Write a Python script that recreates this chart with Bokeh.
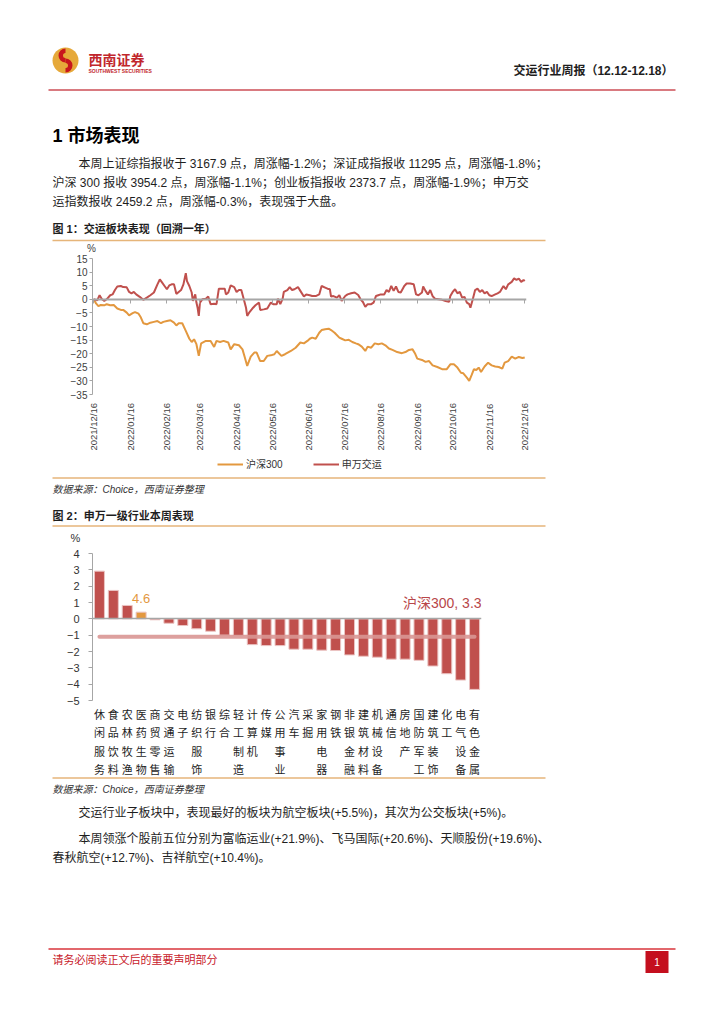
import math
from bokeh.plotting import figure
from bokeh.layouts import column
from bokeh.models import (Range1d, FactorRange, LinearAxis, CategoricalAxis,
                          FixedTicker, Legend, LegendItem)
from bokeh.core.properties import value
from bokeh.embed import file_html
from bokeh.resources import INLINE

FONT = "Liberation Sans, Noto Sans CJK SC"

# ---------------- chart 1 data: 1-year performance (%), x = days since 2021/12/16
date_tick_days = [0, 31, 62, 90, 121, 151, 182, 212, 243, 274, 304, 335, 365]
date_tick_labels = ["2021/12/16", "2022/01/16", "2022/02/16", "2022/03/16", "2022/04/16",
                    "2022/05/16", "2022/06/16", "2022/07/16", "2022/08/16", "2022/09/16",
                    "2022/10/16", "2022/11/16", "2022/12/16"]
y1_ticks = [-35, -30, -25, -20, -15, -10, -5, 0, 5, 10, 15]

jy_days = [0, 3, 5, 7, 9, 11, 14, 16, 18, 20, 23, 25, 28, 30, 32, 34, 36, 39, 42, 45, 48, 51,
           54, 56, 58, 60, 62, 64, 66, 68, 70, 72, 74, 76, 78, 79, 81, 83, 84, 86, 87, 88, 89,
           90, 92, 95, 97, 99, 102, 104, 106, 109, 111, 112, 114, 116, 119, 121, 123, 125, 127,
           129, 130, 132, 135, 137, 140, 141, 144, 147, 150, 152, 155, 156, 158, 160, 161, 164,
           166, 168, 170, 173, 175, 178, 180, 183, 185, 188, 191, 193, 196, 198, 200, 201, 203,
           206, 208, 210, 213, 215, 218, 221, 224, 226, 228, 230, 232, 235, 237, 239, 241, 243,
           246, 248, 250, 252, 254, 256, 258, 260, 263, 265, 268, 271, 273, 275, 278, 279, 281,
           283, 285, 287, 289, 292, 295, 298, 301, 302, 304, 306, 308, 310, 312, 314, 316, 318,
           319, 321, 323, 325, 327, 329, 331, 333, 335, 337, 340, 342, 344, 347, 349, 351, 354,
           356, 358, 360, 362, 364, 365]
jy_vals = [0, -0.4, 1.5, 0, -0.6, 0, 1.5, 1.8, 3.4, 4.7, 4.9, 4.5, 4.4, 2.7, 2.2, 2.7, 1.8, 0.9,
           -0.2, 0.6, 1.5, 2.5, 5.5, 7.3, 6.1, 4.9, 3.7, 5.1, 5.5, 5.5, 2.0, 2.7, 3.4, 5.5, 9.6,
           6.7, 4.9, 2.5, -0.6, 1.8, -1.2, -3.1, -6.1, -1.2, 0, 0.2, 1.0, -1.8, -1.6, -1.8, 3.9,
           3.9, 3.9, 1.8, 2.5, 5.1, 4.5, 2.7, 3.4, 3.4, 0.2, -3.1, -6.1, -4.7, -3.1, -2.2, -1.2,
           -3.9, -3.7, -3.4, -1.2, -1.8, -1.8, 0.2, -1.8, 0.2, 2.7, 3.4, 4.5, 3.4, 3.7, 4.5, 3.1,
           1.0, 1.8, 1.5, 1.2, 1.2, 1.8, 4.9, 4.3, 3.9, 3.7, 1.0, 1.2, 0.6, 1.5, -0.6, 1.2, 1.8,
           2.2, 2.5, 1.6, 0, -1.0, -2.8, -1.8, -1.8, -1.2, 1.2, 1.5, 1.8, 1.8, 3.4, 2.7, 4.9, 3.1,
           4.7, 2.7, 2.5, 4.9, 5.8, 5.8, 5.5, 1.8, 1.5, 2.5, 4.7, 3.1, 1.8, 3.4, 1.2, 0.2, 0,
           -0.2, -0.6, -0.9, 1.2, 2.7, 3.7, 2.2, 2.7, 0.6, 0.9, -1.2, -1.8, -3.1, 0, 3.4, 3.9,
           2.7, 3.4, 2.2, 2.7, 1.5, 1.2, 1.8, 2.2, 2.7, 4.9, 3.7, 5.5, 6.4, 7.7, 7.1, 7.6, 6.4,
           7.1, 6.7]

hs_days = [0, 2, 4, 6, 9, 11, 14, 17, 20, 23, 25, 28, 30, 33, 35, 38, 40, 42, 45, 48, 51, 54,
           57, 59, 62, 65, 68, 70, 72, 75, 78, 81, 83, 85, 87, 89, 91, 95, 99, 102, 104, 107,
           110, 114, 116, 119, 123, 126, 128, 130, 133, 136, 138, 141, 144, 147, 150, 153, 155,
           159, 162, 167, 171, 175, 178, 181, 183, 185, 188, 191, 193, 196, 199, 201, 204, 208,
           210, 213, 216, 219, 222, 224, 227, 230, 232, 235, 238, 241, 244, 247, 250, 253, 257,
           261, 264, 267, 270, 272, 274, 278, 281, 284, 287, 291, 295, 299, 302, 305, 308, 311,
           313, 316, 318, 320, 322, 324, 326, 328, 331, 334, 337, 340, 343, 346, 348, 351, 354,
           357, 360, 363, 365]
hs_vals = [0, -1.5, -2.5, -2.1, -2.2, -1.8, -2.2, -2.1, -3.4, -3.9, -3.9, -4.9, -5.9, -5.1,
           -4.7, -5.3, -6.7, -8.8, -9.2, -8.6, -8.3, -8.0, -8.8, -8.3, -8.0, -7.7, -8.6, -9.6,
           -8.8, -8.8, -11.6, -14.5, -15.7, -14.7, -16.5, -20.8, -16.2, -15.3, -15.3, -17.5,
           -15.3, -15.7, -15.3, -15.9, -18.4, -16.5, -16.9, -18.4, -21.4, -24.5, -21.1, -19.6,
           -19.6, -22.7, -22.7, -20.8, -20.6, -20.2, -19.0, -20.8, -20.2, -19.0, -17.8, -15.9,
           -16.2, -15.3, -14.5, -14.1, -14.5, -12.3, -11.3, -11.0, -10.8, -11.3, -12.3, -14.1,
           -14.5, -15.1, -14.9, -15.7, -16.2, -16.5, -17.4, -19.0, -17.4, -17.8, -16.2, -16.5,
           -16.2, -16.9, -18.1, -18.6, -19.4, -19.8, -19.4, -18.6, -18.4, -19.8, -21.8, -22.3,
           -23.0, -22.7, -24.3, -24.9, -25.7, -25.7, -23.9, -23.9, -25.1, -27.0, -27.2, -28.8,
           -30.0, -27.9, -25.7, -26.0, -25.1, -26.7, -24.7, -23.3, -24.3, -24.7, -24.9, -25.5,
           -23.3, -22.7, -21.1, -21.8, -21.2, -21.6, -21.4]
series_names = ["沪深300", "申万交运"]

# ---------------- chart 2 data: weekly change of SW level-1 industries (%)
industries = ["休闲服务", "食品饮料", "农林牧渔", "医药生物", "商贸零售", "交通运输", "电子",
              "纺织服饰", "银行", "综合", "轻工制造", "计算机", "传媒", "公用事业", "汽车",
              "采掘", "家用电器", "钢铁", "非银金融", "建筑材料", "机械设备", "通信", "房地产",
              "国防军工", "建筑装饰", "化工", "电气设备", "有色金属"]
weekly_chg = [2.92, 1.74, 0.82, 0.41, -0.06, -0.27, -0.41, -0.61, -0.76, -1.0, -1.02, -1.58,
              -1.64, -1.64, -1.86, -1.86, -1.92, -1.94, -2.21, -2.29, -2.35, -2.47, -2.47,
              -2.54, -2.89, -3.36, -3.75, -4.32]
highlight_index = 3
highlight_label = "4.6"
hs300_week = -1.1
hs300_label = "沪深300, 3.3"
y2_ticks = [-5, -4, -3, -2, -1, 0, 1, 2, 3, 4]

RED = "#c0504d"
ORANGE = "#e3983f"
AXIS_GRAY = "#a6a6a6"
TEXT = "#1e1e1e"
TAN = "#e6b57a"


def base_fig(h, x_range, y_range, left=0, right=0, top=0, bottom=0):
    p = figure(width=708, height=h, x_range=x_range, y_range=y_range,
               x_axis_location=None, y_axis_location=None,
               min_border_left=left, min_border_right=right, min_border_top=top,
               min_border_bottom=bottom, frame_align=False,
               toolbar_location=None, output_backend="svg")
    p.outline_line_color = None
    p.grid.visible = False
    return p


def text_fig(y0, y1):
    return base_fig(y1 - y0, Range1d(0, 708), Range1d(y1, y0))


def txt(p, x, y, s, size, color=TEXT, style="normal", align="left"):
    p.text(x=[x], y=[y], text=[s], text_font=value(FONT), text_font_size=f"{size}px",
           text_color=color, text_font_style=style, text_align=align, text_baseline="middle")


def hline(p, x0, x1, y, color, w):
    p.segment(x0=[x0], y0=[y], x1=[x1], y1=[y], line_color=color, line_width=w)


# ---------------- S1: header + intro
s1 = text_fig(0, 254)
s1.circle(x=[65], y=[60], radius=13, fill_color="#e6a93a", line_color=None)
s1.annular_wedge(x=[65], y=[55], inner_radius=2.5, outer_radius=7, start_angle=math.pi / 2,
                 end_angle=3 * math.pi / 2, fill_color="#c8161d", line_color=None)
s1.annular_wedge(x=[65], y=[65], inner_radius=2.5, outer_radius=7, start_angle=-math.pi / 2,
                 end_angle=math.pi / 2, fill_color="#c8161d", line_color=None)
txt(s1, 88, 59, "西南证券", 14, "#c1272d", "bold")
txt(s1, 88, 70, "SOUTHWEST SECURITIES", 5, "#c1272d", "bold")
txt(s1, 673, 70, "交运行业周报（12.12-12.18）", 12, TEXT, "bold", "right")
hline(s1, 48, 675, 89.5, "#d97a80", 2)
txt(s1, 52, 135, "1 市场表现", 18, "#000000", "bold")
txt(s1, 78, 163, "本周上证综指报收于 3167.9 点，周涨幅-1.2%；深证成指报收 11295 点，周涨幅-1.8%；", 12)
txt(s1, 52, 182, "沪深 300 报收 3954.2 点，周涨幅-1.1%；创业板指报收 2373.7 点，周涨幅-1.9%；申万交", 12)
txt(s1, 52, 201, "运指数报收 2459.2 点，周涨幅-0.3%，表现强于大盘。", 12)
txt(s1, 52, 228, "图 1：交运板块表现（回溯一年）", 11, TEXT, "bold")
hline(s1, 52, 545, 240, TAN, 1.5)
txt(s1, 91, 247.5, "%", 10, "#404040", "normal", "center")

# ---------------- S2: chart 1 plot area
p1 = base_fig(145, Range1d(-1, 366.5), Range1d(-35, 15), left=92, right=182, top=4,
              bottom=5)
yax1 = LinearAxis(ticker=FixedTicker(ticks=y1_ticks), axis_line_color=AXIS_GRAY,
                  major_tick_line_color=AXIS_GRAY, major_tick_out=3, major_tick_in=0,
                  minor_tick_line_color=None, major_label_text_font_size="10px",
                  major_label_text_font=FONT, major_label_text_color="#404040",
                  major_label_standoff=2)
p1.add_layout(yax1, "left")
zax1 = LinearAxis(fixed_location=0, ticker=FixedTicker(ticks=date_tick_days),
                  axis_line_color=AXIS_GRAY, axis_line_width=2, major_tick_in=4,
                  major_tick_out=0, major_tick_line_color=AXIS_GRAY, minor_tick_line_color=None,
                  major_label_text_font_size="1px", major_label_text_color=None,
                  major_label_standoff=0)
p1.add_layout(zax1, "above")
p1.line(hs_days, hs_vals, line_color=ORANGE, line_width=2)
p1.line(jy_days, jy_vals, line_color=RED, line_width=2)

# ---------------- S2b: date labels + legend (shares chart 1 x scale)
# same series drawn into a strip whose y range lies outside the data, so only the
# legend swatches are visible here
p1b = base_fig(77, p1.x_range, Range1d(100, 101), left=92, right=182, top=48)
dax1 = LinearAxis(ticker=FixedTicker(ticks=date_tick_days),
                  major_label_overrides={d: l for d, l in zip(date_tick_days, date_tick_labels)},
                  axis_line_color=None, major_tick_line_color=None, minor_tick_line_color=None,
                  major_label_orientation=math.pi / 2, major_label_text_font_size="9.5px",
                  major_label_text_font=FONT, major_label_text_color="#404040",
                  major_label_standoff=0)
p1b.add_layout(dax1, "above")
k_hs = p1b.line(hs_days, hs_vals, line_color=ORANGE, line_width=2)
k_jy = p1b.line(jy_days, jy_vals, line_color=RED, line_width=2)
leg1 = Legend(items=[LegendItem(label=series_names[0], renderers=[k_hs]),
                     LegendItem(label=series_names[1], renderers=[k_jy])],
              orientation="horizontal", location=(125, 5), padding=0, margin=0, spacing=30,
              glyph_width=26, glyph_height=14, label_height=14, label_standoff=3,
              label_text_font_size="10px", label_text_font=FONT, label_text_color="#333333",
              border_line_color=None, background_fill_alpha=0)
p1b.add_layout(leg1, "center")

# ---------------- S3: source + caption 2
s3 = text_fig(476, 545)
hline(s3, 52, 545, 477.5, TAN, 1.5)
txt(s3, 52, 489, "数据来源：Choice，西南证券整理", 10, "#333333", "italic")
txt(s3, 52, 515, "图 2：申万一级行业本周表现", 11, TEXT, "bold")
hline(s3, 52, 545, 525.5, TAN, 1.5)
txt(s3, 75, 537, "%", 11, "#333333", "normal", "center")

# ---------------- S4: chart 2
p2 = base_fig(162, FactorRange(factors=industries), Range1d(-5, 4), left=92, right=227,
              top=8, bottom=7)
bar_colors = [ORANGE if i == highlight_index else RED for i in range(len(industries))]
p2.vbar(x=industries, top=weekly_chg, width=0.72, fill_color=bar_colors,
        line_color="#ebc4c3", line_width=1)
zax2 = CategoricalAxis(fixed_location=0, axis_line_color=AXIS_GRAY, axis_line_width=1.5,
                       major_tick_line_color=None, major_tick_in=0, major_tick_out=0,
                       major_label_text_font_size="1px", major_label_text_color=None,
                       major_label_standoff=0)
p2.add_layout(zax2, "above")
yax2 = LinearAxis(ticker=FixedTicker(ticks=y2_ticks), axis_line_color=AXIS_GRAY,
                  major_tick_line_color=AXIS_GRAY, major_tick_out=4, major_tick_in=0,
                  minor_tick_line_color=None, major_label_text_font_size="11px",
                  major_label_text_font=FONT, major_label_text_color="#333333",
                  major_label_standoff=9)
p2.add_layout(yax2, "left")
p2.line(x=[industries[0], industries[-1]], y=[hs300_week, hs300_week], line_color="#d99694",
        line_width=4, line_cap="round", line_alpha=0.9)
p2.text(x=[industries[highlight_index]], y=[weekly_chg[highlight_index]], text=[highlight_label],
        text_align="center", text_baseline="bottom", y_offset=-9, text_font=value(FONT),
        text_font_size="13px", text_color=ORANGE)
p2.text(x=[industries[-1]], y=[0], text=[hs300_label], text_align="right",
        text_baseline="bottom", x_offset=7, y_offset=-8, text_font=value(FONT),
        text_font_size="14px", text_color="#b8474a")

# ---------------- S5: vertical category labels (shares chart 2 x scale)
p5 = base_fig(69, p2.x_range, Range1d(776, 707), left=92, right=227)
row_y = [714, 732.5, 751, 769.5]
lx, ly, lt = [], [], []
for name in industries:
    for k, ch in enumerate(name):
        lx.append(name)
        ly.append(row_y[k])
        lt.append(ch)
p5.text(x=lx, y=ly, text=lt, text_align="center", text_baseline="middle",
        text_font=value(FONT), text_font_size="11px", text_color=TEXT)

# ---------------- S6: remaining text + footer
s6 = text_fig(776, 1008)
hline(s6, 52, 545, 777.5, TAN, 1.5)
txt(s6, 52, 789, "数据来源：Choice，西南证券整理", 10, "#333333", "italic")
txt(s6, 78, 812, "交运行业子板块中，表现最好的板块为航空板块(+5.5%)，其次为公交板块(+5%)。", 12)
txt(s6, 78, 838, "本周领涨个股前五位分别为富临运业(+21.9%)、飞马国际(+20.6%)、天顺股份(+19.6%)、", 12)
txt(s6, 52, 857, "春秋航空(+12.7%)、吉祥航空(+10.4%)。", 12)
hline(s6, 48, 675, 948.5, "#d8343b", 1.5)
txt(s6, 52, 959, "请务必阅读正文后的重要声明部分", 11, "#c8202a")
s6.rect(x=[656.5], y=[961.5], width=23, height=22, fill_color="#c40f1e", line_color=None)
txt(s6, 656.5, 961.5, "1", 10, "#ffffff", "normal", "center")

layout = column(s1, p1, p1b, s3, p2, p5, s6, spacing=0)
open("out.html", "w").write(file_html(layout, INLINE, title="交运行业周报"))
